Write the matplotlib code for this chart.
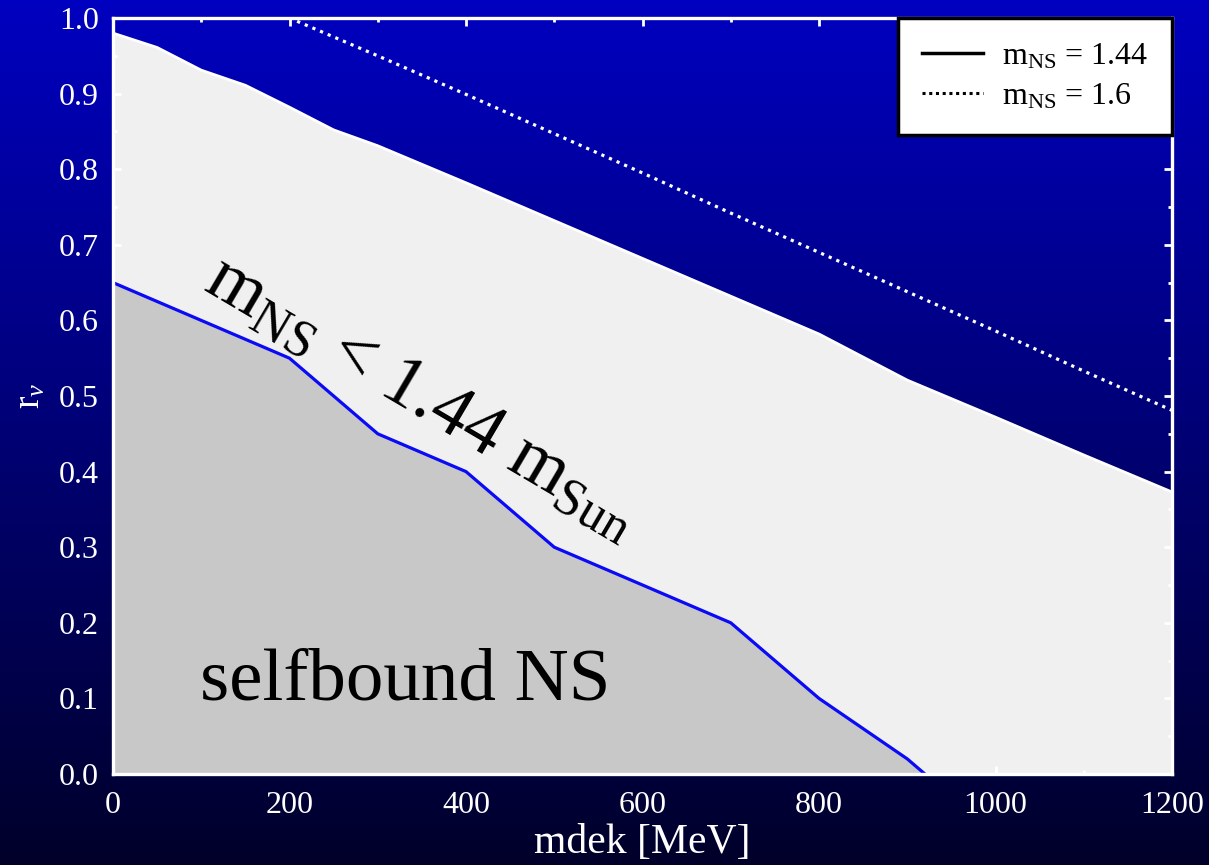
import numpy as np
import matplotlib
matplotlib.use("Agg")
import matplotlib.pyplot as plt
from matplotlib.lines import Line2D

plt.rcParams['font.family'] = ['Liberation Serif', 'DejaVu Serif']
plt.rcParams['mathtext.fontset'] = 'custom'
plt.rcParams['mathtext.rm'] = 'Liberation Serif'
plt.rcParams['mathtext.it'] = 'Liberation Serif:italic'

# Data
x_upper = [0, 50, 100, 150, 200, 250, 300, 400, 500, 600, 700, 800, 900, 1000, 1100, 1200]
r_upper = [0.980, 0.961, 0.931, 0.911, 0.882, 0.852, 0.831, 0.782, 0.732, 0.682, 0.632, 0.582, 0.521, 0.472, 0.422, 0.373]

x_dotted = [200, 300, 400, 500, 600, 700, 800, 900, 1000, 1100, 1200]
r_dotted = [1.0, 0.950, 0.899, 0.847, 0.795, 0.742, 0.690, 0.638, 0.586, 0.533, 0.481]

x_self = [0, 200, 300, 400, 500, 700, 800, 900, 920]
r_self = [0.65, 0.55, 0.45, 0.40, 0.30, 0.20, 0.10, 0.02, 0.0]

xticks = [0, 200, 400, 600, 800, 1000, 1200]
yticks = [0.0, 0.1, 0.2, 0.3, 0.4, 0.5, 0.6, 0.7, 0.8, 0.9, 1.0]

W, H = 1209, 865
fig = plt.figure(figsize=(W / 100, H / 100), dpi=100)

# Background gradient
bg = fig.add_axes([0, 0, 1, 1], zorder=-10)
n = 256
t = np.linspace(0, 1, n)[:, None]
top = np.array([0, 0, 192]) / 255.0
bot = np.array([0, 0, 42]) / 255.0
grad = top[None, None, :] * (1 - t[..., None]) + bot[None, None, :] * t[..., None]
grad = np.repeat(grad, 2, axis=1)
bg.imshow(grad, aspect='auto', extent=[0, 1, 0, 1], origin='upper')
bg.set_axis_off()

ax = fig.add_axes([113 / W, 1 - 774 / H, (1172 - 113) / W, (774 - 18) / H])
ax.set_facecolor('none')

ax.fill_between(x_upper, 0, r_upper, color='#f0f0f0', lw=0, zorder=1)
ax.fill_between(x_self, 0, r_self, color='#c8c8c8', lw=0, zorder=2)
ax.plot(x_upper, r_upper, color='white', lw=2.0, zorder=3)
ax.plot(x_dotted, r_dotted, color='white', lw=2.3, linestyle=(0, (1, 1.6)), zorder=3)
ax.plot(x_self, r_self, color='#0a0af5', lw=2.3, zorder=4)

ax.set_xlim(0, 1200)
ax.set_ylim(0, 1.0)
ax.set_xticks(xticks)
ax.set_xticklabels([str(v) for v in xticks])
ax.set_yticks(yticks)
ax.set_yticklabels([f"{v:.1f}" for v in yticks])
ax.set_xticks(np.arange(100, 1200, 200), minor=True)
ax.set_yticks(np.arange(0.05, 1.0, 0.1), minor=True)
ax.tick_params(which='both', direction='in', top=True, right=True, colors='white',
               labelcolor='white', labelsize=23, width=2)
ax.tick_params(which='major', length=6)
ax.tick_params(which='minor', length=3)
ax.tick_params(axis='x', pad=12)
ax.tick_params(axis='y', pad=10)
for s in ax.spines.values():
    s.set_color('white')
    s.set_linewidth(2.4)
    s.set_zorder(6)

ax.set_xlabel('mdek [MeV]', color='white', fontsize=30, labelpad=3)
ax.set_ylabel(r'r$_\nu$', color='white', fontsize=27, labelpad=8)

ax.text(99, 0.098, 'selfbound NS', fontsize=54, color='black', zorder=5,
        va='baseline')
ax.text(350, 0.497, r'$\mathrm{m_{NS}}$ < 1.44 $\mathrm{m_{Sun}}$', fontsize=53,
        color='black', rotation=-30.5, ha='center', va='center',
        rotation_mode='anchor', zorder=5)

handles = [Line2D([], [], color='black', lw=2.5),
           Line2D([], [], color='black', lw=2.2, linestyle=(0, (1, 1.2)))]
labels = [r'$\mathrm{m_{NS}}$ = 1.44', r'$\mathrm{m_{NS}}$ = 1.6']
leg = ax.legend(handles, labels, loc='upper right', borderaxespad=0, fancybox=False,
                fontsize=23, frameon=True, handlelength=1.9, borderpad=0.75,
                labelspacing=0.32, handletextpad=0.6)
leg.get_frame().set_edgecolor('black')
leg.get_frame().set_linewidth(2.5)
leg.get_frame().set_facecolor('white')
leg.get_frame().set_alpha(1)
leg.set_zorder(10)

fig.savefig('out.png', dpi=100)
